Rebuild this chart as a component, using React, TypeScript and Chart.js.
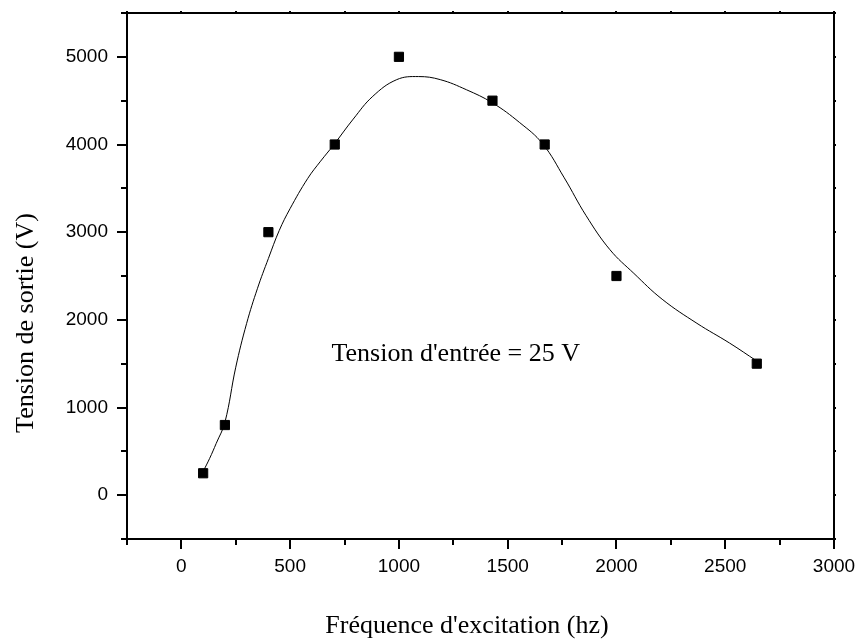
import { useEffect, useRef } from 'react';
import { Chart, registerables } from 'chart.js';

Chart.register(...registerables);

// Measured output voltage at each excitation frequency
const frequencies = [100, 200, 400, 705, 1000, 1430, 1670, 2000, 2645];
const voltages = [250, 800, 3000, 4000, 5000, 4500, 4000, 2500, 1500];

// Smoothed fit curve through the measurements
const fitFrequencies = [100, 130, 160, 200, 250, 300, 350, 400, 450, 500, 580, 640, 700, 790, 880, 990, 1090, 1190, 1310, 1430, 1555, 1660, 1760, 1860, 1970, 2080, 2210, 2370, 2520, 2645];
const fitVoltages = [270, 420, 590, 830, 1460, 1960, 2360, 2700, 3020, 3270, 3610, 3810, 3995, 4290, 4550, 4740, 4775, 4740, 4625, 4475, 4250, 4010, 3620, 3190, 2800, 2530, 2235, 1960, 1735, 1530];

const xMin = -250;
const xMax = 3000;
const xStep = 250;
const xLabelEvery = 500;

const yMin = -500;
const yMax = 5500;
const yStep = 500;
const yLabelEvery = 1000;

const xTitle = "Fréquence d'excitation (hz)";
const yTitle = 'Tension de sortie (V)';
const note = "Tension d'entrée = 25 V";
const notePosition = { x: 690, y: 1525 };

const SERIF = '"Liberation Serif", "Times New Roman", serif';
const SANS = '"Liberation Sans", Arial, sans-serif';

const framePlugin = {
  id: 'frameAndTicks',
  afterDraw(chart: any) {
    const { ctx, chartArea } = chart;
    const { left, right, top, bottom } = chartArea;
    const xs = chart.scales.x;
    const ys = chart.scales.y;
    ctx.save();
    ctx.strokeStyle = '#000';
    ctx.lineWidth = 2;
    ctx.lineCap = 'butt';
    ctx.strokeRect(Math.round(left), Math.round(top), Math.round(right - left), Math.round(bottom - top));

    ctx.beginPath();
    xs.ticks.forEach((t: any) => {
      const px = Math.round(xs.getPixelForValue(t.value));
      const major = t.value % xLabelEvery === 0;
      ctx.moveTo(px, bottom);
      ctx.lineTo(px, bottom + (major ? 10 : 6));
      ctx.moveTo(px, top);
      ctx.lineTo(px, top - 2);
    });
    ys.ticks.forEach((t: any) => {
      const py = Math.round(ys.getPixelForValue(t.value));
      const major = t.value % yLabelEvery === 0;
      ctx.moveTo(left, py);
      ctx.lineTo(left - (major ? 10 : 6), py);
      ctx.moveTo(right, py);
      ctx.lineTo(right + 2, py);
    });
    ctx.stroke();

    ctx.fillStyle = '#000';
    ctx.font = `26px ${SERIF}`;
    ctx.textAlign = 'center';
    ctx.textBaseline = 'alphabetic';
    ctx.fillText(xTitle, 467, 633);

    ctx.save();
    ctx.translate(33, 323);
    ctx.rotate(-Math.PI / 2);
    ctx.fillText(yTitle, 0, 0);
    ctx.restore();

    ctx.textAlign = 'left';
    ctx.fillText(note, xs.getPixelForValue(notePosition.x), ys.getPixelForValue(notePosition.y));
    ctx.restore();
  },
};

export default function App() {
  const ref = useRef<HTMLCanvasElement>(null);

  useEffect(() => {
    document.body.style.margin = '0';
    const canvas = ref.current;
    if (!canvas) return;
    const chart = new Chart(canvas, {
      type: 'scatter',
      data: {
        datasets: [
          {
            label: 'fit',
            data: fitFrequencies.map((x, i) => ({ x, y: fitVoltages[i] })),
            showLine: true,
            borderColor: '#000',
            borderWidth: 1,
            pointRadius: 0,
            tension: 0.4,
            fill: false,
          },
          {
            label: 'mesures',
            data: frequencies.map((x, i) => ({ x, y: voltages[i] })),
            pointStyle: 'rect',
            pointRadius: 6.5,
            backgroundColor: '#000',
            borderColor: '#000',
            borderWidth: 1,
          },
        ],
      },
      options: {
        animation: false,
        responsive: false,
        devicePixelRatio: 1,
        layout: { padding: { top: 13, right: 27, left: 0, bottom: 0 } },
        plugins: { legend: { display: false }, tooltip: { enabled: false } },
        scales: {
          x: {
            type: 'linear',
            min: xMin,
            max: xMax,
            afterFit: (s: any) => {
              s.height = 102;
              s.paddingLeft = 0;
              s.paddingRight = 0;
            },
            border: { display: false },
            grid: { display: true, drawOnChartArea: false, drawTicks: true, tickLength: 9, tickColor: 'rgba(0,0,0,0)' },
            ticks: {
              stepSize: xStep,
              autoSkip: false,
              maxRotation: 0,
              padding: 7,
              color: '#000',
              font: { family: SANS, size: 19 },
              callback: (v: any) => (Number(v) % xLabelEvery === 0 && Number(v) >= 0 ? String(v) : ''),
            },
          },
          y: {
            type: 'linear',
            min: yMin,
            max: yMax,
            afterFit: (s: any) => {
              s.width = 127;
              s.paddingTop = 0;
              s.paddingBottom = 0;
            },
            border: { display: false },
            grid: { display: true, drawOnChartArea: false, drawTicks: true, tickLength: 9, tickColor: 'rgba(0,0,0,0)' },
            ticks: {
              stepSize: yStep,
              autoSkip: false,
              padding: 10,
              color: '#000',
              font: { family: SANS, size: 19 },
              callback: (v: any) =>
                Number(v) % yLabelEvery === 0 && Number(v) >= 0 && Number(v) <= 5000 ? String(v) : '',
            },
          },
        },
      },
      plugins: [framePlugin],
    });
    return () => chart.destroy();
  }, []);

  return <canvas ref={ref} width={861} height={641} style={{ display: 'block' }} />;
}
